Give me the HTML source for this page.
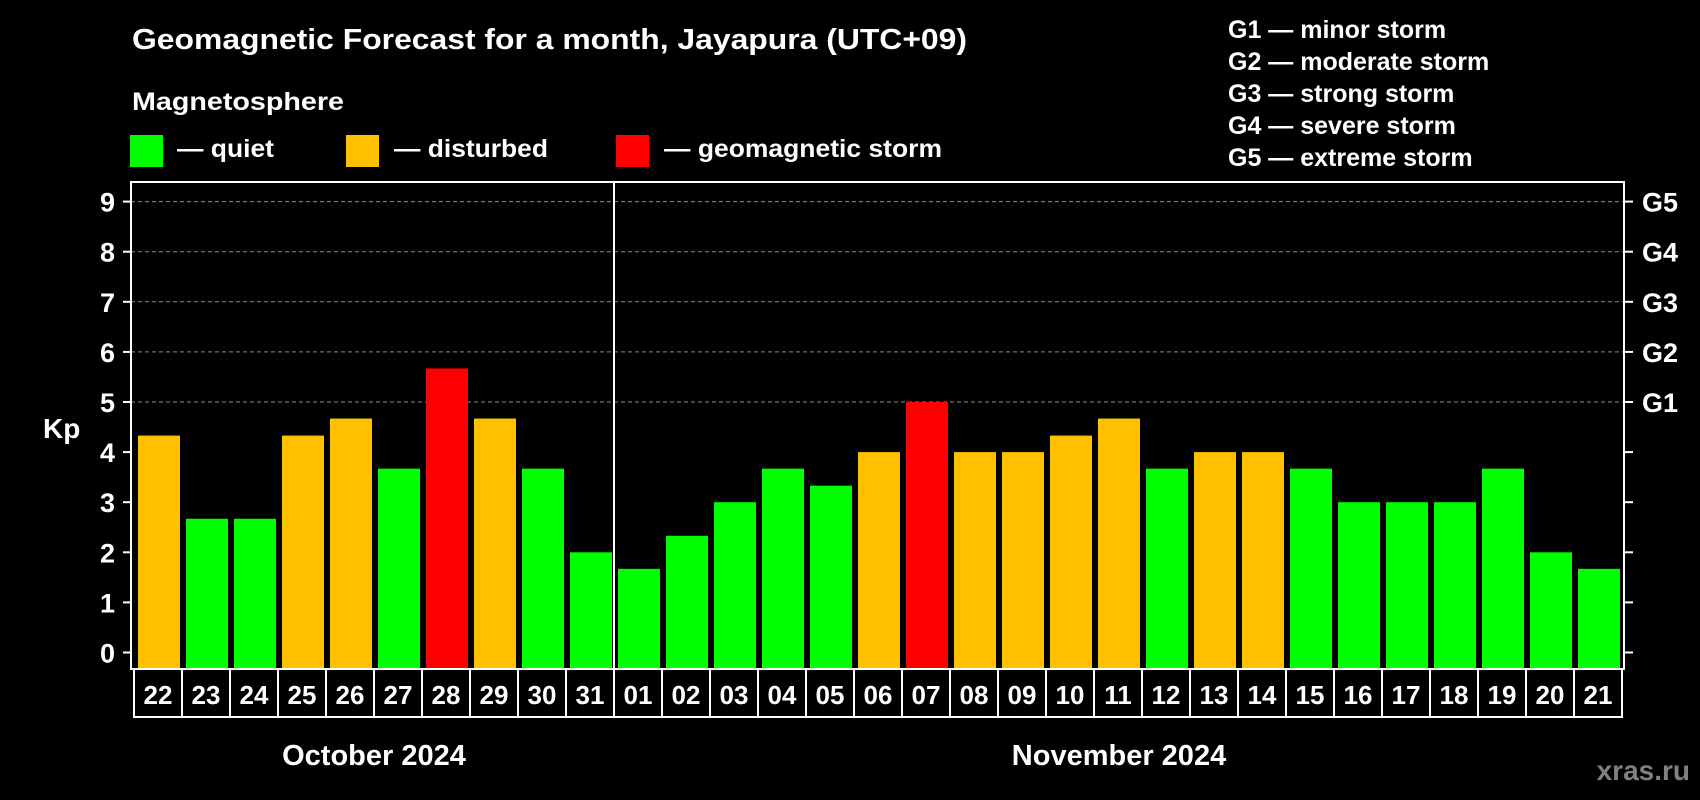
<!DOCTYPE html>
<html><head><meta charset="utf-8"><style>
html,body{margin:0;padding:0;background:#000;}
svg{display:block;font-family:"Liberation Sans",Arial,sans-serif;font-weight:bold;}
</style></head><body>
<svg id="chart" width="1700" height="800" viewBox="0 0 1700 800">
<rect x="0" y="0" width="1700" height="800" fill="#000"/>
<text x="132" y="49" font-size="29" fill="#fff" textLength="835" lengthAdjust="spacingAndGlyphs">Geomagnetic Forecast for a month, Jayapura (UTC+09)</text>
<text x="132" y="110" font-size="25" fill="#fff" textLength="212" lengthAdjust="spacingAndGlyphs">Magnetosphere</text>
<g>
<rect x="130" y="135" width="33" height="32" fill="#00ff00"/>
<text x="177" y="157" font-size="25" fill="#fff" textLength="97" lengthAdjust="spacingAndGlyphs">— quiet</text>
</g>
<g>
<rect x="346" y="135" width="33" height="32" fill="#ffc000"/>
<text x="394" y="157" font-size="25" fill="#fff" textLength="154" lengthAdjust="spacingAndGlyphs">— disturbed</text>
</g>
<g>
<rect x="616" y="135" width="33" height="32" fill="#ff0000"/>
<text x="664" y="157" font-size="25" fill="#fff" textLength="278" lengthAdjust="spacingAndGlyphs">— geomagnetic storm</text>
</g>
<g font-size="25" fill="#fff">
<text x="1228" y="38">G1 — minor storm</text>
<text x="1228" y="70">G2 — moderate storm</text>
<text x="1228" y="102">G3 — strong storm</text>
<text x="1228" y="134">G4 — severe storm</text>
<text x="1228" y="166">G5 — extreme storm</text>
</g>
<g id="grid"></g>
<g id="bars"></g>
<g id="axes"></g>
<text x="43" y="438" font-size="28" fill="#fff">Kp</text>
<text x="374" y="765" font-size="29" fill="#fff" text-anchor="middle">October 2024</text>
<text x="1119" y="765" font-size="29" fill="#fff" text-anchor="middle">November 2024</text>
<text x="1690" y="780" font-size="28" fill="#808080" text-anchor="end">xras.ru</text>
</svg>
<script>
const days = ["22","23","24","25","26","27","28","29","30","31","01","02","03","04","05","06","07","08","09","10","11","12","13","14","15","16","17","18","19","20","21"];
const kpValues = [4.33,2.67,2.67,4.33,4.67,3.67,5.67,4.67,3.67,2.0,1.67,2.33,3.0,3.67,3.33,4.0,5.0,4.0,4.0,4.33,4.67,3.67,4.0,4.0,3.67,3.0,3.0,3.0,3.67,2.0,1.67];
const levels = ["disturbed","quiet","quiet","disturbed","disturbed","quiet","storm","disturbed","quiet","quiet","quiet","quiet","quiet","quiet","quiet","disturbed","storm","disturbed","disturbed","disturbed","disturbed","quiet","disturbed","disturbed","quiet","quiet","quiet","quiet","quiet","quiet","quiet"];
const yTicks = [0,1,2,3,4,5,6,7,8,9];
const gLabels = ["G1","G2","G3","G4","G5"];
const gLevels = [5,6,7,8,9];
const monthSplit = 10;

const NS = "http://www.w3.org/2000/svg";
const colors = {quiet:"#00ff00", disturbed:"#ffc000", storm:"#ff0000"};
const plotL = 131, plotR = 1624, plotT = 182, plotB = 669;
const cellX0 = 134, cellW = 48, boxB = 717;
const y = v => 652.5 - v * 50.1;
const x = i => cellX0 + i * cellW;
function mk(tag, attrs, parent){ const e = document.createElementNS(NS, tag); for (const k in attrs) e.setAttribute(k, attrs[k]); parent.appendChild(e); return e; }
const grid = document.getElementById("grid"), bars = document.getElementById("bars"), axes = document.getElementById("axes");

gLevels.forEach((v, i) => {
  const l = mk("line", {x1: plotL, x2: plotR, y1: y(v), y2: y(v), stroke: "#8a8a8a", "stroke-width": 1, "stroke-dasharray": "4,3"}, grid);
  
  
});

kpValues.forEach((v, i) => {
  const r = mk("rect", {x: x(i) + 4, y: y(v), width: 42, height: plotB - 1 - y(v), fill: colors[levels[i]]}, bars);
  
  
});

const frame = mk("rect", {x: plotL, y: plotT, width: plotR - plotL, height: plotB - plotT, fill: "none", stroke: "#fff", "stroke-width": 2}, axes);


const div = mk("line", {x1: x(monthSplit), x2: x(monthSplit), y1: plotT, y2: boxB, stroke: "#fff", "stroke-width": 2}, axes);



yTicks.forEach(v => {
  const t = mk("line", {x1: plotL - 8, x2: plotL, y1: y(v), y2: y(v), stroke: "#fff", "stroke-width": 2}, axes);
  
  
  const lb = mk("text", {x: 115, y: y(v) + 10, "font-size": 27, fill: "#fff", "text-anchor": "end"}, axes);
  lb.textContent = v;
  
  
  const rt = mk("line", {x1: plotR, x2: plotR + 9, y1: y(v), y2: y(v), stroke: "#fff", "stroke-width": 2}, axes);
  
  
});
gLevels.forEach((v, i) => {
  const g = mk("text", {x: 1642, y: y(v) + 10, "font-size": 27, fill: "#fff"}, axes);
  g.textContent = gLabels[i];
  
  
});

days.forEach((d, i) => {
  const c = mk("rect", {x: x(i), y: plotB, width: cellW, height: boxB - plotB, fill: "none", stroke: "#fff", "stroke-width": 2}, axes);
  
  
  const t = mk("text", {x: x(i) + cellW / 2, y: plotB + 35, "font-size": 26, fill: "#fff", "text-anchor": "middle"}, axes);
  t.textContent = d;
  
  
});
</script>
</body></html>
